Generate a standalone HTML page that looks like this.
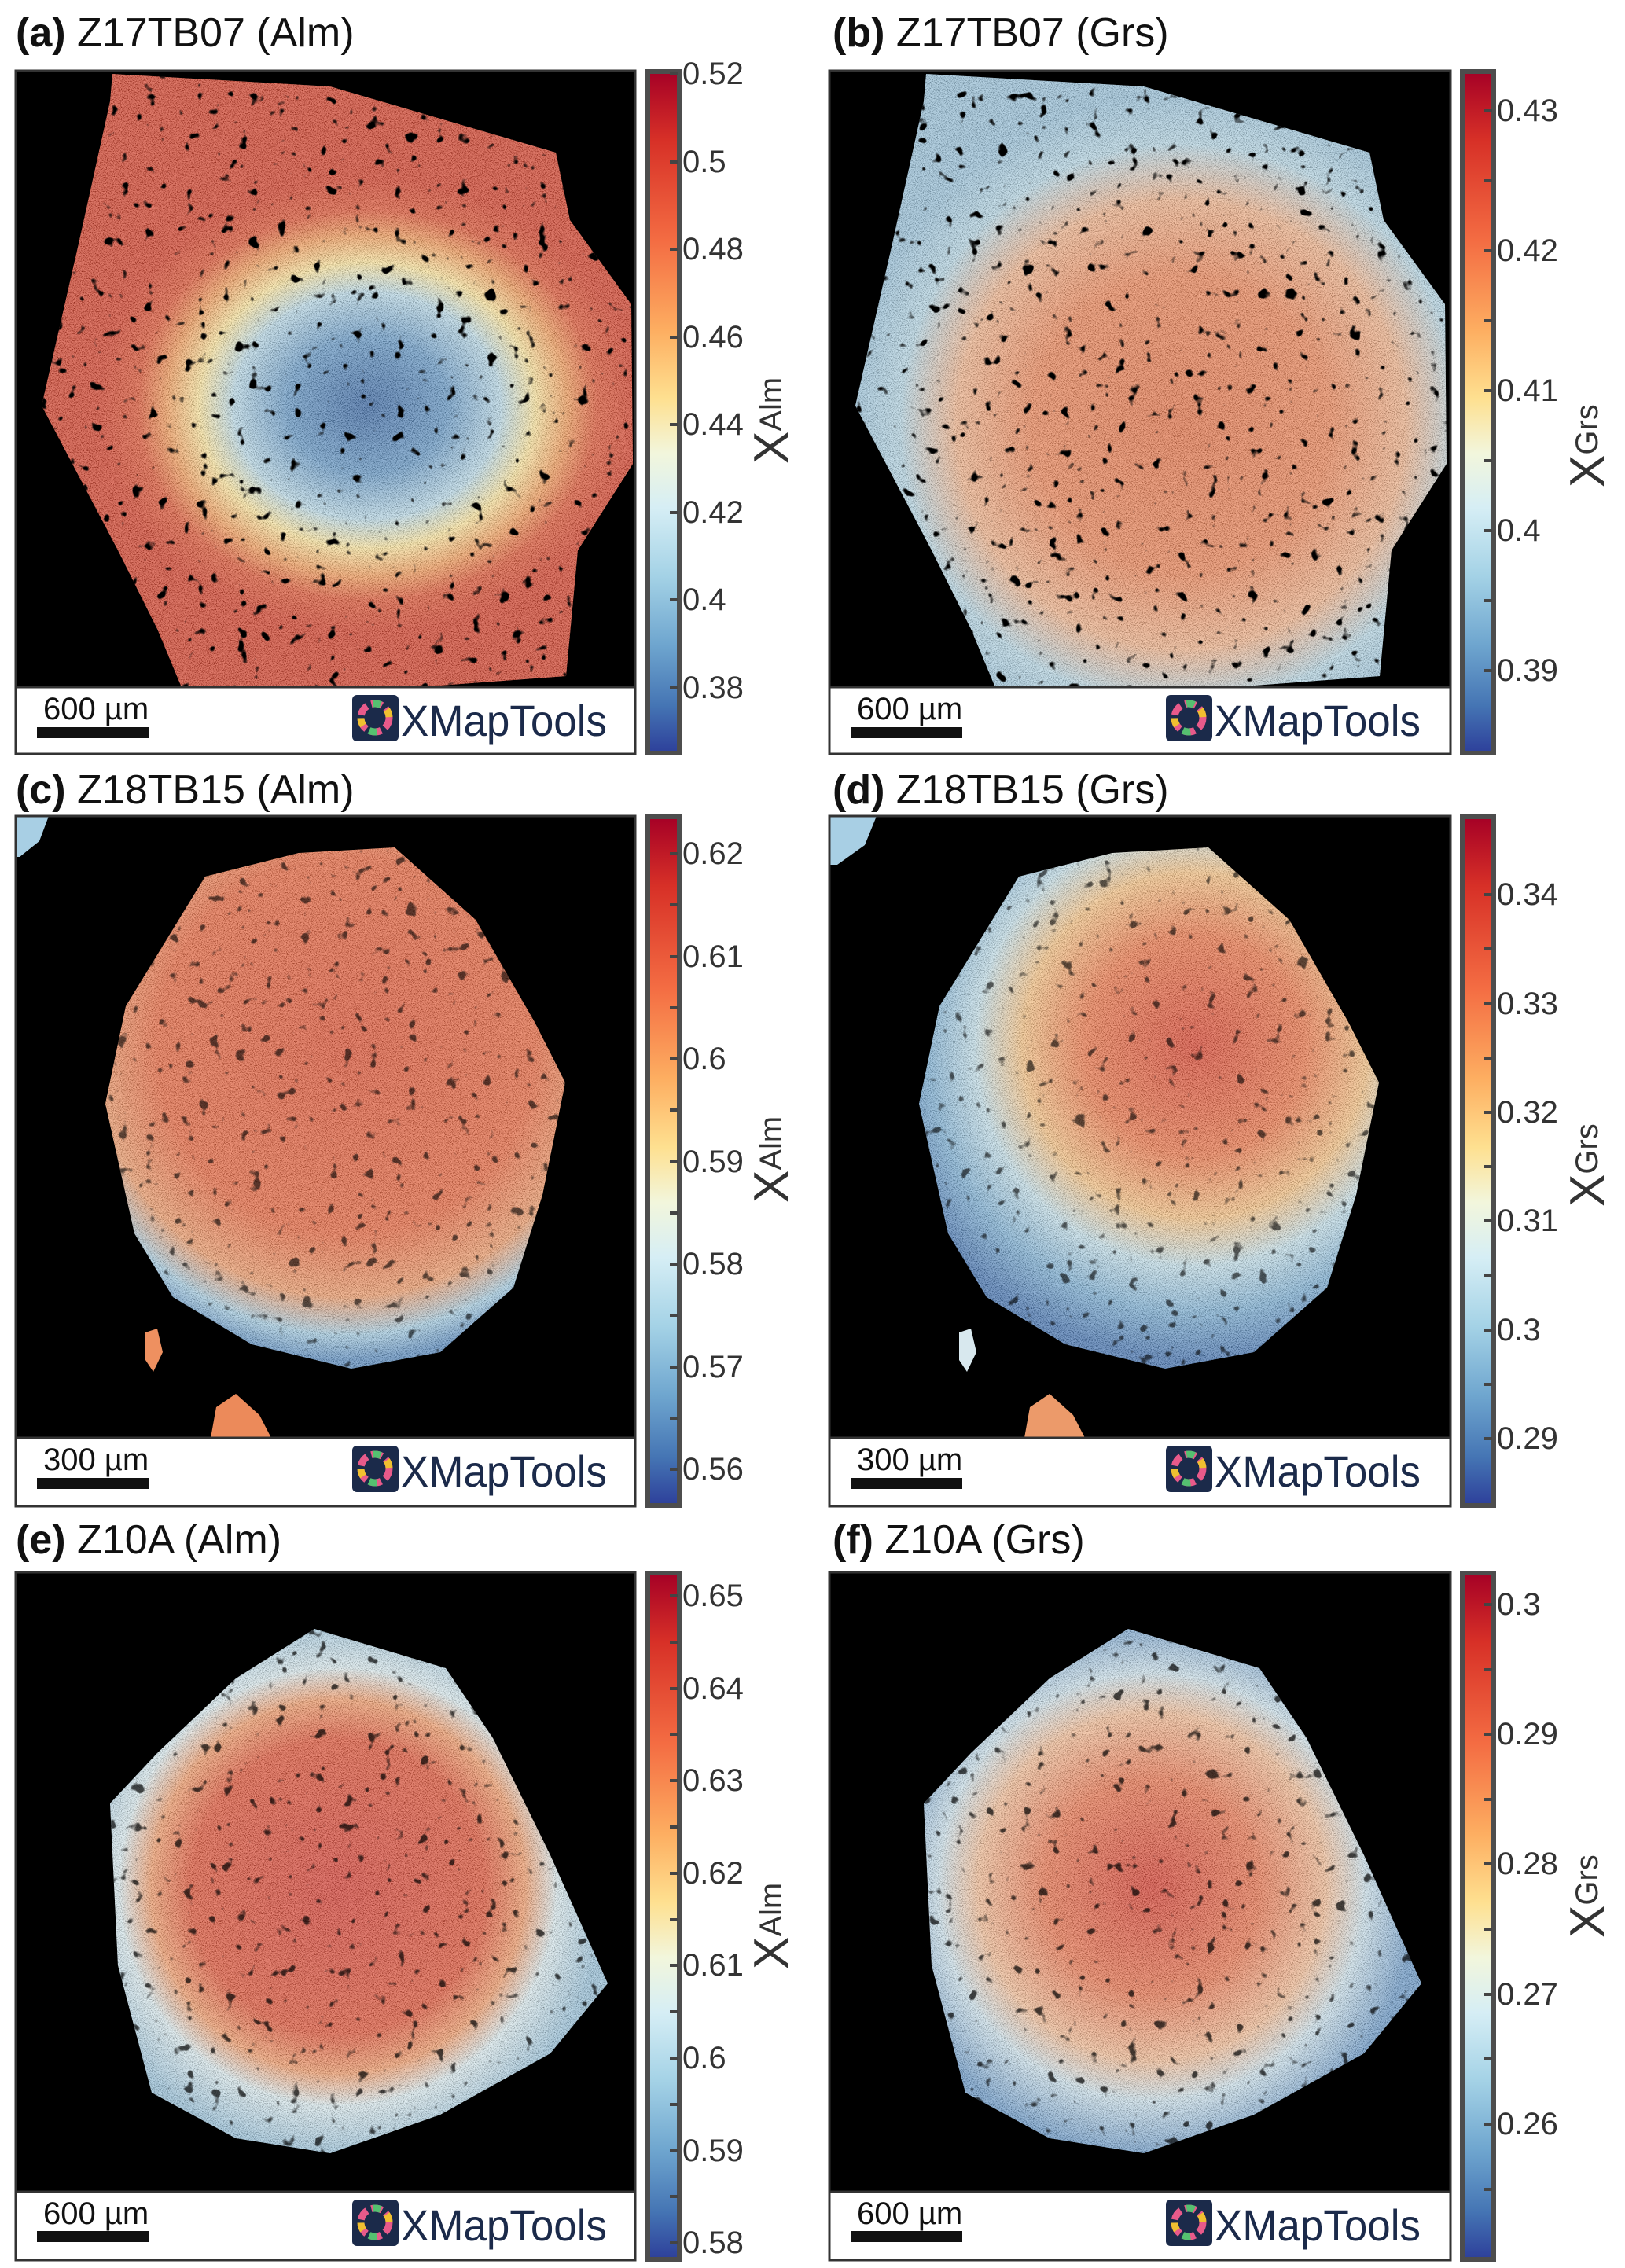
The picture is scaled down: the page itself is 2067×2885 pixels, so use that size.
<!DOCTYPE html>
<html><head><meta charset="utf-8"><style>html,body{margin:0;padding:0;background:#fff}svg{display:block}</style></head><body>
<svg width="2067" height="2885" viewBox="0 0 2067 2885" xmlns="http://www.w3.org/2000/svg" font-family="Liberation Sans, sans-serif">
<defs>
<linearGradient id="cb" x1="0" y1="0" x2="0" y2="1">
<stop offset="0" stop-color="#a50026"/><stop offset="0.1" stop-color="#d73027"/><stop offset="0.25" stop-color="#f46d43"/><stop offset="0.38" stop-color="#fdae61"/><stop offset="0.48" stop-color="#fee090"/><stop offset="0.56" stop-color="#f2f6dc"/><stop offset="0.64" stop-color="#d6eef5"/><stop offset="0.74" stop-color="#a4d2e6"/><stop offset="0.84" stop-color="#6fa6cf"/><stop offset="0.93" stop-color="#4575b4"/><stop offset="1" stop-color="#2d3f9a"/>
</linearGradient>
<radialGradient id="ga" gradientUnits="userSpaceOnUse" cx="467" cy="516" r="340" gradientTransform="translate(467 516) scale(1 0.85) translate(-467 -516)">
<stop offset="0" stop-color="#3d6aa6"/><stop offset="0.3" stop-color="#6a9cc9"/><stop offset="0.5" stop-color="#bcdcea"/><stop offset="0.63" stop-color="#fde6a0"/><stop offset="0.75" stop-color="#f4a060"/><stop offset="0.86" stop-color="#e05a3a"/><stop offset="1" stop-color="#d6452f"/>
</radialGradient>
<radialGradient id="gb" gradientUnits="userSpaceOnUse" cx="467" cy="540" r="420">
<stop offset="0" stop-color="#e8794f"/><stop offset="0.45" stop-color="#ee8a5e"/><stop offset="0.68" stop-color="#f2b68f"/><stop offset="0.85" stop-color="#b8d8e6"/><stop offset="1" stop-color="#9cc4dc"/>
</radialGradient>
<radialGradient id="gc" gradientUnits="userSpaceOnUse" cx="440" cy="1330" r="400">
<stop offset="0" stop-color="#e2583a"/><stop offset="0.6" stop-color="#ea6c45"/><stop offset="0.8" stop-color="#f0a070"/><stop offset="0.92" stop-color="#a8cfe4"/><stop offset="1" stop-color="#5e8fc2"/>
</radialGradient>
<radialGradient id="gd" gradientUnits="userSpaceOnUse" cx="485" cy="1330" r="400">
<stop offset="0" stop-color="#dd4a35"/><stop offset="0.35" stop-color="#ef7c50"/><stop offset="0.55" stop-color="#f8c588"/><stop offset="0.7" stop-color="#c6e2ec"/><stop offset="0.85" stop-color="#80b2d6"/><stop offset="1" stop-color="#4a78b4"/>
</radialGradient>
<radialGradient id="ge" gradientUnits="userSpaceOnUse" cx="430" cy="2400" r="340">
<stop offset="0" stop-color="#d9453a"/><stop offset="0.55" stop-color="#e25a3e"/><stop offset="0.7" stop-color="#f3a070"/><stop offset="0.82" stop-color="#dcecf0"/><stop offset="1" stop-color="#9cc4dc"/>
</radialGradient>
<radialGradient id="gf" gradientUnits="userSpaceOnUse" cx="430" cy="2400" r="340">
<stop offset="0" stop-color="#d94436"/><stop offset="0.4" stop-color="#ec7a55"/><stop offset="0.65" stop-color="#f5c09a"/><stop offset="0.8" stop-color="#cfe4ee"/><stop offset="1" stop-color="#6f9dcb"/>
</radialGradient>
<filter id="holes" x="0" y="0" width="100%" height="100%">
<feTurbulence type="fractalNoise" baseFrequency="0.06" numOctaves="2" seed="4"/>
<feColorMatrix type="matrix" values="0 0 0 0 0  0 0 0 0 0  0 0 0 0 0  12 0 0 0 -8.1"/>
</filter>
<filter id="spk" x="0" y="0" width="100%" height="100%">
<feTurbulence type="fractalNoise" baseFrequency="0.9" numOctaves="1" seed="7"/>
<feColorMatrix type="matrix" values="3 0 0 0 -1  3 0 0 0 -1  3 0 0 0 -1  0 0 0 0 0.3"/>
</filter>
<path id="pa" d="M143,94 L420,110 L707,194 L725,280 L803,387 L805,590 L735,700 L720,860 L560,872 L230,872 L200,800 L150,700 L53,516 L100,310 L140,129 Z"/>
<path id="pc" d="M261,1115 L380,1085 L502,1078 L605,1170 L680,1300 L719,1377 L690,1520 L653,1638 L560,1720 L447,1741 L320,1710 L220,1650 L171,1569 L134,1404 L160,1280 Z"/>
<path id="pe" d="M300,2135 L400,2072 L567,2122 L627,2211 L700,2360 L773,2523 L700,2612 L560,2690 L420,2739 L300,2720 L193,2662 L150,2500 L140,2294 L200,2230 Z"/>
<clipPath id="ca"><use href="#pa"/></clipPath>
<clipPath id="cb2"><use href="#pa" transform="translate(1035 0)"/></clipPath>
<clipPath id="cc"><use href="#pc"/></clipPath>
<clipPath id="cd"><use href="#pc" transform="translate(1035 0)"/></clipPath>
<clipPath id="ce"><use href="#pe"/></clipPath>
<clipPath id="cf"><use href="#pe" transform="translate(1035 0)"/></clipPath>
</defs>

<g font-size="52" fill="#111">
<text x="20" y="59"><tspan font-weight="bold">(a)</tspan> Z17TB07 (Alm)</text>
<text x="1059" y="59"><tspan font-weight="bold">(b)</tspan> Z17TB07 (Grs)</text>
<text x="20" y="1022"><tspan font-weight="bold">(c)</tspan> Z18TB15 (Alm)</text>
<text x="1059" y="1022"><tspan font-weight="bold">(d)</tspan> Z18TB15 (Grs)</text>
<text x="20" y="1976"><tspan font-weight="bold">(e)</tspan> Z10A (Alm)</text>
<text x="1059" y="1976"><tspan font-weight="bold">(f)</tspan> Z10A (Grs)</text>
</g>

<rect x="20" y="90" width="788" height="869" fill="#fff"/>
<rect x="20" y="90" width="788" height="784" fill="#000"/>
<rect x="1055" y="90" width="790" height="869" fill="#fff"/>
<rect x="1055" y="90" width="790" height="784" fill="#000"/>
<rect x="20" y="1038" width="788" height="878" fill="#fff"/>
<rect x="20" y="1038" width="788" height="791" fill="#000"/>
<rect x="1055" y="1038" width="790" height="878" fill="#fff"/>
<rect x="1055" y="1038" width="790" height="791" fill="#000"/>
<rect x="20" y="2000" width="788" height="875" fill="#fff"/>
<rect x="20" y="2000" width="788" height="788" fill="#000"/>
<rect x="1055" y="2000" width="790" height="875" fill="#fff"/>
<rect x="1055" y="2000" width="790" height="788" fill="#000"/>

<use href="#pa" fill="url(#ga)"/>
<g clip-path="url(#ca)"><rect x="20" y="90" width="788" height="784" filter="url(#spk)"/><rect x="20" y="90" width="788" height="784" filter="url(#holes)"/></g>
<use href="#pa" transform="translate(1035 0)" fill="url(#gb)"/>
<g clip-path="url(#cb2)"><rect x="1055" y="90" width="790" height="784" filter="url(#spk)"/><rect x="1055" y="90" width="790" height="784" filter="url(#holes)"/></g>

<use href="#pc" fill="url(#gc)"/>
<g clip-path="url(#cc)"><rect x="20" y="1038" width="788" height="791" filter="url(#spk)"/><rect x="20" y="1038" width="788" height="791" filter="url(#holes)" opacity="0.6"/></g>
<use href="#pc" transform="translate(1035 0)" fill="url(#gd)"/>
<g clip-path="url(#cd)"><rect x="1055" y="1038" width="790" height="791" filter="url(#spk)"/><rect x="1055" y="1038" width="790" height="791" filter="url(#holes)" opacity="0.6"/></g>
<path d="M20,1038 L62,1038 L50,1070 L25,1090 L20,1090 Z" fill="#a8cfe4"/>
<path d="M1055,1038 L1115,1038 L1100,1075 L1065,1100 L1055,1100 Z" fill="#a8cfe4"/>
<path d="M268,1829 L275,1790 L300,1773 L330,1800 L345,1829 Z" fill="#ec8a5a"/>
<path d="M1303,1829 L1310,1790 L1335,1773 L1365,1800 L1380,1829 Z" fill="#ec9a6a"/>
<path d="M185,1695 L200,1690 L207,1720 L195,1745 L185,1730 Z" fill="#ee9060"/>
<path d="M1220,1695 L1235,1690 L1242,1720 L1230,1745 L1220,1730 Z" fill="#d8e8ee"/>

<use href="#pe" fill="url(#ge)"/>
<g clip-path="url(#ce)"><rect x="20" y="2000" width="788" height="788" filter="url(#spk)"/><rect x="20" y="2000" width="788" height="788" filter="url(#holes)" opacity="0.7"/></g>
<use href="#pe" transform="translate(1035 0)" fill="url(#gf)"/>
<g clip-path="url(#cf)"><rect x="1055" y="2000" width="790" height="788" filter="url(#spk)"/><rect x="1055" y="2000" width="790" height="788" filter="url(#holes)" opacity="0.7"/></g>

<g fill="none" stroke="#333" stroke-width="3">
<rect x="20" y="90" width="788" height="869"/><line x1="20" y1="874" x2="808" y2="874"/>
<rect x="1055" y="90" width="790" height="869"/><line x1="1055" y1="874" x2="1845" y2="874"/>
<rect x="20" y="1038" width="788" height="878"/><line x1="20" y1="1829" x2="808" y2="1829"/>
<rect x="1055" y="1038" width="790" height="878"/><line x1="1055" y1="1829" x2="1845" y2="1829"/>
<rect x="20" y="2000" width="788" height="875"/><line x1="20" y1="2788" x2="808" y2="2788"/>
<rect x="1055" y="2000" width="790" height="875"/><line x1="1055" y1="2788" x2="1845" y2="2788"/>
</g>

<g font-size="40" fill="#111">
<text x="55" y="915">600 µm</text><rect x="47" y="925" width="142" height="14"/>
<text x="1090" y="915">600 µm</text><rect x="1082" y="925" width="142" height="14"/>
<text x="55" y="1870">300 µm</text><rect x="47" y="1880" width="142" height="14"/>
<text x="1090" y="1870">300 µm</text><rect x="1082" y="1880" width="142" height="14"/>
<text x="55" y="2829">600 µm</text><rect x="47" y="2838" width="142" height="14"/>
<text x="1090" y="2829">600 µm</text><rect x="1082" y="2838" width="142" height="14"/>
</g>
<g id="logo1">
<rect x="448" y="884" width="59" height="59" rx="6" fill="#1b2a4a"/>
<circle cx="477" cy="913" r="18" fill="none" stroke="#e85a8a" stroke-width="9" stroke-dasharray="14 6"/>
<circle cx="477" cy="913" r="18" fill="none" stroke="#55c070" stroke-width="9" stroke-dasharray="10 46" stroke-dashoffset="30"/>
<circle cx="477" cy="913" r="18" fill="none" stroke="#f0c030" stroke-width="9" stroke-dasharray="10 46" stroke-dashoffset="10"/>
<text x="510" y="936" font-size="56" fill="#1b2a4a" textLength="262" lengthAdjust="spacingAndGlyphs">XMapTools</text>
</g>
<use href="#logo1" transform="translate(1035 0)"/>
<use href="#logo1" transform="translate(0 955)"/>
<use href="#logo1" transform="translate(1035 955)"/>
<use href="#logo1" transform="translate(0 1914)"/>
<use href="#logo1" transform="translate(1035 1914)"/>

<g stroke="#4d4d4d" stroke-width="6" fill="url(#cb)">
<rect x="824" y="91" width="40" height="867"/>
<rect x="1860" y="91" width="40" height="867"/>
<rect x="824" y="1039" width="40" height="876"/>
<rect x="1860" y="1039" width="40" height="876"/>
<rect x="824" y="2001" width="40" height="873"/>
<rect x="1860" y="2001" width="40" height="873"/>
</g>

<g stroke="#444" stroke-width="4">
<path d="M852,94h10M852,206h10M852,317h10M852,429h10M852,540h10M852,652h10M852,763h10M852,875h10"/>
<path d="M1888,141h10M1888,230h10M1888,319h10M1888,408h10M1888,497h10M1888,586h10M1888,675h10M1888,764h10M1888,853h10"/>
<path d="M852,1086h10M852,1151h10M852,1217h10M852,1282h10M852,1347h10M852,1412h10M852,1478h10M852,1543h10M852,1608h10M852,1673h10M852,1739h10M852,1804h10M852,1869h10"/>
<path d="M1888,1138h10M1888,1207h10M1888,1277h10M1888,1346h10M1888,1415h10M1888,1484h10M1888,1553h10M1888,1623h10M1888,1692h10M1888,1761h10M1888,1830h10"/>
<path d="M852,2030h10M852,2089h10M852,2148h10M852,2206h10M852,2265h10M852,2324h10M852,2383h10M852,2442h10M852,2500h10M852,2559h10M852,2618h10M852,2677h10M852,2736h10M852,2794h10M852,2853h10"/>
<path d="M1888,2041h10M1888,2124h10M1888,2206h10M1888,2289h10M1888,2371h10M1888,2454h10M1888,2537h10M1888,2619h10M1888,2702h10M1888,2785h10"/>
</g>

<g font-size="40" fill="#333" dominant-baseline="central">
<text x="868" y="94">0.52</text><text x="868" y="206">0.5</text><text x="868" y="317">0.48</text><text x="868" y="429">0.46</text><text x="868" y="540">0.44</text><text x="868" y="652">0.42</text><text x="868" y="763">0.4</text><text x="868" y="875">0.38</text>
<text x="1904" y="141">0.43</text><text x="1904" y="319">0.42</text><text x="1904" y="497">0.41</text><text x="1904" y="675">0.4</text><text x="1904" y="853">0.39</text>
<text x="868" y="1086">0.62</text><text x="868" y="1217">0.61</text><text x="868" y="1347">0.6</text><text x="868" y="1478">0.59</text><text x="868" y="1608">0.58</text><text x="868" y="1739">0.57</text><text x="868" y="1869">0.56</text>
<text x="1904" y="1138">0.34</text><text x="1904" y="1277">0.33</text><text x="1904" y="1415">0.32</text><text x="1904" y="1553">0.31</text><text x="1904" y="1692">0.3</text><text x="1904" y="1830">0.29</text>
<text x="868" y="2030">0.65</text><text x="868" y="2148">0.64</text><text x="868" y="2265">0.63</text><text x="868" y="2383">0.62</text><text x="868" y="2500">0.61</text><text x="868" y="2618">0.6</text><text x="868" y="2736">0.59</text><text x="868" y="2853">0.58</text>
<text x="1904" y="2041">0.3</text><text x="1904" y="2206">0.29</text><text x="1904" y="2371">0.28</text><text x="1904" y="2537">0.27</text><text x="1904" y="2702">0.26</text>
</g>

<g fill="#333">
<text transform="translate(1002 590) rotate(-90)" font-size="62">X<tspan font-size="40" dy="-8">Alm</tspan></text>
<text transform="translate(2040 620) rotate(-90)" font-size="62">X<tspan font-size="40" dy="-8">Grs</tspan></text>
<text transform="translate(1002 1530) rotate(-90)" font-size="62">X<tspan font-size="40" dy="-8">Alm</tspan></text>
<text transform="translate(2040 1535) rotate(-90)" font-size="62">X<tspan font-size="40" dy="-8">Grs</tspan></text>
<text transform="translate(1002 2505) rotate(-90)" font-size="62">X<tspan font-size="40" dy="-8">Alm</tspan></text>
<text transform="translate(2040 2465) rotate(-90)" font-size="62">X<tspan font-size="40" dy="-8">Grs</tspan></text>
</g>
</svg>
</body></html>
